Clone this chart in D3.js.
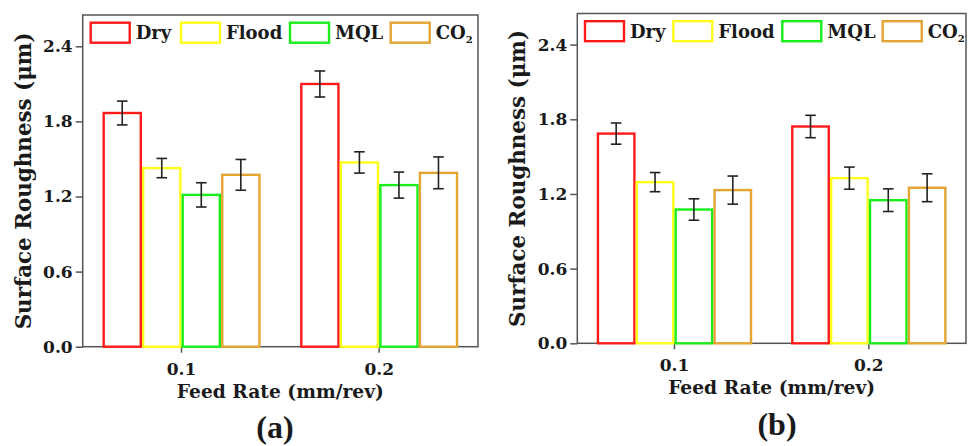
<!DOCTYPE html>
<html><head><meta charset="utf-8">
<script src="https://cdn.jsdelivr.net/npm/d3@7"></script>
<style>
body{margin:0;background:#fff;}
svg{display:block;}
text{font-family:"DejaVu Serif",serif;font-weight:bold;fill:#1a1a1a;}
</style></head>
<body><svg id="c" width="970" height="446"></svg>
<script>
const feedRates = ["0.1","0.2"];
const series = ["Dry","Flood","MQL","CO2"];
const colors = ["#ff1a1a","#ffff1a","#1aee1a","#e3a432"];
const yTicks = [0.0,0.6,1.2,1.8,2.4];
// panel (a)
const aDry   = [1.867, 2.099];
const aFlood = [1.427, 1.472];
const aMQL   = [1.213, 1.291];
const aCO2   = [1.373, 1.389];
const aErrDry   = [0.095, 0.104];
const aErrFlood = [0.077, 0.085];
const aErrMQL   = [0.097, 0.104];
const aErrCO2   = [0.123, 0.127];
// panel (b)
const bDry   = [1.685, 1.742];
const bFlood = [1.295, 1.327];
const bMQL   = [1.075, 1.150];
const bCO2   = [1.231, 1.250];
const bErrDry   = [0.085, 0.090];
const bErrFlood = [0.077, 0.089];
const bErrMQL   = [0.086, 0.091];
const bErrCO2   = [0.113, 0.112];

const svg = d3.select("#c");

function panel(cfg, vals, errs, label){
  const g = svg.append("g");
  const x = d3.scaleBand().domain(feedRates).range([cfg.x0,cfg.x1]).paddingInner(0.2).paddingOuter(0.1);
  const xs = d3.scaleBand().domain(series).range([0,x.bandwidth()]);
  const y = d3.scaleLinear().domain([0,2.65]).range([cfg.yb,cfg.yt]);

  // frame
  g.append("rect").attr("x",cfg.x0).attr("y",cfg.yt).attr("width",cfg.x1-cfg.x0).attr("height",cfg.yb-cfg.yt)
    .attr("fill","none").attr("stroke","#555").attr("stroke-width",1.5);

  const ya = g.append("g").attr("transform",`translate(${cfg.x0},0)`)
    .call(d3.axisLeft(y).tickValues(yTicks).tickFormat(d3.format(".1f")).tickSize(7).tickPadding(3));
  ya.select(".domain").remove();
  ya.selectAll("line").attr("stroke","#555").attr("stroke-width",1.5);
  ya.selectAll("text").style("font-size","17px").attr("fill","#1a1a1a");

  const xa = g.append("g").attr("transform",`translate(0,${cfg.yb})`)
    .call(d3.axisBottom(x).tickSize(6).tickPadding(10));
  xa.select(".domain").remove();
  xa.selectAll("line").attr("stroke","#555").attr("stroke-width",1.5);
  xa.selectAll("text").style("font-size","17px").attr("fill","#1a1a1a");

  // bars
  series.forEach((s,i)=>{
    feedRates.forEach((f,j)=>{
      const v = vals[i][j], e = errs[i][j];
      const bx = x(f)+xs(s);
      g.append("rect").attr("x",bx+1.2).attr("width",xs.bandwidth()-2.4)
        .attr("y",y(v)).attr("height",y(0)-y(v))
        .attr("fill","#fff").attr("stroke",colors[i]).attr("stroke-width",2.4);
      const cx = bx + xs.bandwidth()/2;
      const eb = g.append("g").attr("stroke","#222").attr("stroke-width",1.6);
      eb.append("line").attr("x1",cx).attr("x2",cx).attr("y1",y(v+e)).attr("y2",y(v-e));
      eb.append("line").attr("x1",cx-5.3).attr("x2",cx+5.3).attr("y1",y(v+e)).attr("y2",y(v+e));
      eb.append("line").attr("x1",cx-5.3).attr("x2",cx+5.3).attr("y1",y(v-e)).attr("y2",y(v-e));
    });
  });

  // legend
  const ly = cfg.yt + 7.7;
  series.forEach((s,i)=>{
    const lx = cfg.x0 + cfg.leg[i];
    g.append("rect").attr("x",lx).attr("y",ly).attr("width",39).attr("height",20)
      .attr("fill","#fff").attr("stroke",colors[i]).attr("stroke-width",2.4);
    const t = g.append("text").attr("x",lx+45).attr("y",ly+16.5).style("font-size","18px");
    if(s==="CO2"){
      t.append("tspan").text("CO");
      t.append("tspan").text("2").attr("dy",4).style("font-size","10px");
    } else t.text(s);
  });

  // axis titles
  g.append("text").attr("transform",`translate(${cfg.ylx},${(cfg.yt+cfg.yb)/2}) rotate(-90)`)
    .attr("text-anchor","middle").attr("dy","0.35em").style("font-size","23px")
    .attr("textLength",297).attr("lengthAdjust","spacingAndGlyphs").text("Surface Roughness (μm)");
  g.append("text").attr("x",(cfg.x0+cfg.x1)/2).attr("y",cfg.yb+51).attr("text-anchor","middle")
    .style("font-size","19px").attr("textLength",207).attr("lengthAdjust","spacingAndGlyphs")
    .text("Feed Rate (mm/rev)");
  g.append("text").attr("x",cfg.px).attr("y",cfg.yb+91.5).attr("text-anchor","middle")
    .style("font-family","'Liberation Serif',serif").style("font-size","32px").text(label);
}

panel({x0:82.7,x1:478,yt:15,yb:346.7,ylx:23,px:275,leg:[8,98.3,207.3,308]},
  [aDry,aFlood,aMQL,aCO2],[aErrDry,aErrFlood,aErrMQL,aErrCO2],"(a)");
panel({x0:577.3,x1:966,yt:13.5,yb:343.3,ylx:517,px:777,leg:[7.7,96,205,305.4]},
  [bDry,bFlood,bMQL,bCO2],[bErrDry,bErrFlood,bErrMQL,bErrCO2],"(b)");
</script></body></html>
